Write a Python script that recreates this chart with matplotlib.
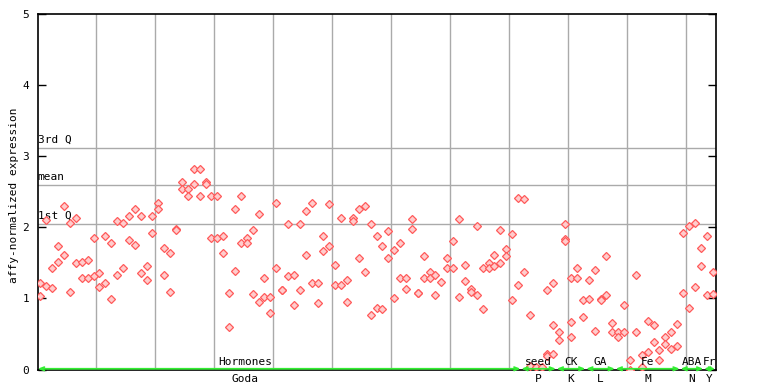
import matplotlib
matplotlib.use('Agg')
import matplotlib.pyplot as plt
from matplotlib.transforms import blended_transform_factory

# ---- data (expression values per sample, replicates per sample) ----
hormones = [
    [1.21, 1.03], [2.10, 1.17], [1.43, 1.14], [1.74, 1.51], [2.30, 1.61],
    [2.06, 1.09], [2.13, 1.50], [1.51, 1.28], [1.54, 1.29], [1.85, 1.32],
    [1.36, 1.16], [1.87, 1.21], [1.78, 0.99], [2.08, 1.33], [2.06, 1.42],
    [2.16, 1.82], [2.25, 1.75], [2.16, 1.35], [1.46, 1.26], [2.15, 1.92],
    [2.34, 2.25], [1.71, 1.33], [1.63, 1.09], [1.98, 1.96], [2.63, 2.53],
    [2.53, 2.43], [2.81, 2.61], [2.81, 2.44], [2.64, 2.61], [2.44, 1.84],
    [2.43, 1.84], [1.87, 1.63], [1.08, 0.59], [2.26, 1.39], [2.44, 1.77],
    [1.84, 1.77], [1.96, 1.06], [2.18, 0.95], [1.28, 1.02], [1.02, 0.80],
    [2.34, 1.43], [1.11, 1.11], [2.05, 1.32], [1.33, 0.91], [2.05, 1.11],
    [2.23, 1.61], [2.34, 1.22], [1.22, 0.94], [1.88, 1.67], [2.32, 1.73],
    [1.47, 1.18], [2.13, 1.18], [1.26, 0.95], [2.13, 2.09], [2.25, 1.56],
    [2.29, 1.37], [2.04, 0.77], [1.87, 0.87], [1.74, 0.85], [1.95, 1.56],
    [1.68, 1.01], [1.77, 1.28], [1.28, 1.13], [2.12, 1.98], [1.08, 1.08],
    [1.60, 1.29], [1.37, 1.29], [1.33, 1.04], [1.23], [1.57, 1.42],
    [1.81, 1.42], [2.12, 1.02], [1.47, 1.25], [1.13, 1.09], [2.02, 1.04],
    [1.42, 0.85], [1.49, 1.43], [1.61, 1.46], [1.96, 1.50], [1.69, 1.59],
    [1.91, 0.98], [2.41, 1.19],
]
seed = [[2.39, 1.37], [0.77, 0.05], [0.04], [0.04], [1.11, 0.22, 0.19],
        [1.22, 0.62, 0.22]]
ck = [[0.52, 0.42], [2.04, 1.83, 1.80], [1.29, 0.67, 0.45], [1.42, 1.28],
      [0.97, 0.74]]
ga = [[1.26, 0.99], [1.40, 0.54], [0.99, 0.97], [1.60, 1.05], [0.66, 0.53]]
fe = [[0.52, 0.46], [0.91, 0.53], [0.14, 0.00], [1.33, 0.52], [0.21, 0.04],
      [0.68, 0.25], [0.63, 0.39], [0.28, 0.14], [0.45, 0.36], [0.53, 0.29],
      [0.64, 0.33]]
aba = [[1.92, 1.08], [2.02, 0.87], [2.06, 1.16], [1.71, 1.45]]
fr = [[1.87, 1.05], [1.37, 1.06]]

top_labels = ["Hormones", "seed", "CK", "GA", "Fe", "ABA", "Fr"]
bottom_labels = ["Goda", "P", "K", "L", "M", "N", "Y"]
group_values = [hormones, seed, ck, ga, fe, aba, fr]

q1_value = 2.04
mean_value = 2.59
q3_value = 3.11

# ---- figure ----
mono = 'DejaVu Sans Mono'
fs = 8
fig = plt.figure(figsize=(7.68, 3.84), dpi=100)
L, R, T, B = 37.5, 715.5, 13.5, 369.5
ax = fig.add_axes([L / 768, 1 - B / 384, (R - L) / 768, (B - T) / 384])

samples = [v for g in group_values for v in g]
n = len(samples)
xs, ys = [], []
for i, vals in enumerate(samples):
    for v in vals:
        xs.append(i)
        ys.append(v)

ax.set_xlim(-0.5, n - 0.5)
ax.set_ylim(0, 5)

# vertical grid
for k in range(10, n, 10):
    ax.axvline(k - 0.5, color='#aaaaaa', lw=1, zorder=1)

# reference lines
for val, lab in [(q3_value, '3rd Q'), (mean_value, 'mean'), (q1_value, '1st Q')]:
    ax.axhline(val, color='#aaaaaa', lw=1, zorder=1)
    ax.text(-0.5, val + 0.05, lab, fontsize=fs, family=mono, ha='left',
            va='bottom', zorder=2)

ax.plot(xs, ys, linestyle='none', marker='D', markersize=4.0,
        markerfacecolor='#ffcccc', markeredgecolor='#ff5a5a',
        markeredgewidth=0.9, zorder=3)

# group annotations
trans = blended_transform_factory(ax.transData, ax.transAxes)
start = 0
for gi, g in enumerate(group_values):
    end = start + len(g) - 1
    center = (start + end) / 2
    if gi == 0:
        center = 34.7
    ax.annotate('', xy=(start - 0.45, 0.002), xytext=(end + 0.45, 0.002),
                xycoords=trans, textcoords=trans,
                arrowprops=dict(arrowstyle='<->,head_length=0.3,head_width=0.12',
                                color='#33ee33', lw=1.3, shrinkA=0, shrinkB=0),
                annotation_clip=False, zorder=4)
    ax.text(center, 0.008, top_labels[gi], transform=trans, fontsize=fs,
            family=mono, ha='center', va='bottom', zorder=5)
    ax.text(center, -0.012, bottom_labels[gi], transform=trans, fontsize=fs,
            family=mono, ha='center', va='top', clip_on=False)
    start = end + 1

ax.set_xticks([])
ax.set_yticks([0, 1, 2, 3, 4, 5])
ax.tick_params(axis='y', direction='in', length=6, width=1, labelsize=fs,
               left=True, right=True, pad=6)
for lab in ax.get_yticklabels():
    lab.set_family(mono)
for sp in ax.spines.values():
    sp.set_linewidth(1.2)
    sp.set_color('black')

ax.set_ylabel('affy-normalized expression', fontsize=fs, family=mono)
ax.yaxis.set_label_coords(-0.028, 0.49)

fig.savefig('out.png', dpi=100)
